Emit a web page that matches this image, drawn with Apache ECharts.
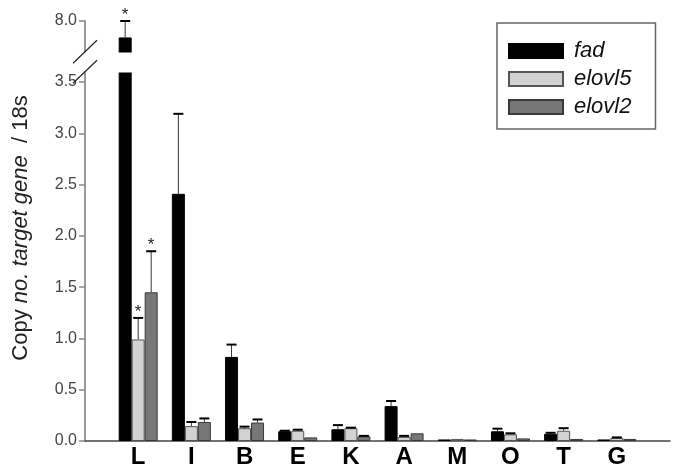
<!DOCTYPE html>
<html>
<head>
<meta charset="utf-8">
<script src="https://cdn.jsdelivr.net/npm/echarts@6/dist/echarts.min.js"></script>
<style>html,body{margin:0;padding:0;background:#fff}#c{width:673px;height:473px}</style>
</head>
<body>
<div id="c"></div>
<script>
const categories = ['L','I','B','E','K','A','M','O','T','G'];
const seriesNames = ['fad','elovl5','elovl2'];
const fad       = [7.84, 2.41, 0.82, 0.095, 0.115, 0.34, 0.015, 0.095, 0.07, 0.015];
const fadErr    = [0.16, 0.78, 0.12, 0.005, 0.04, 0.05, 0.0, 0.025, 0.01, 0.0];
const elovl5    = [0.99, 0.145, 0.125, 0.10, 0.125, 0.04, 0.02, 0.065, 0.10, 0.03];
const elovl5Err = [0.21, 0.04, 0.015, 0.01, 0.005, 0.01, 0.0, 0.01, 0.025, 0.005];
const elovl2    = [1.45, 0.185, 0.18, 0.035, 0.045, 0.075, 0.015, 0.025, 0.02, 0.02];
const elovl2Err = [0.40, 0.035, 0.03, 0.0, 0.005, 0.0, 0.0, 0.0, 0.0, 0.0];
const fadStar    = [1,0,0,0,0,0,0,0,0,0];
const elovl5Star = [1,0,0,0,0,0,0,0,0,0];
const elovl2Star = [1,0,0,0,0,0,0,0,0,0];
const yBreak = {start: 3.6, end: 7.7, gap: 0.195};
const yTicks = [0, 0.5, 1.0, 1.5, 2.0, 2.5, 3.0, 3.5, 8.0];

const axisCats = [''].concat(categories, ['']);
const values = [fad, elovl5, elovl2];
const errs = [fadErr, elovl5Err, elovl2Err];
const stars = [fadStar, elovl5Star, elovl2Star];
const styles = [
  {color:'#000000', borderColor:'#000000', borderWidth:1},
  {color:'#d2d2d2', borderColor:'#555555', borderWidth:1},
  {color:'#777777', borderColor:'#3a3a3a', borderWidth:1}
];
const BW = 13;
const offsets = [-BW, 0, BW];
const FONT = '"Liberation Sans", Arial, sans-serif';

const chart = echarts.init(document.getElementById('c'), null, {renderer:'canvas'});
const series = [];
values.forEach((vals, k) => {
  series.push({
    name: seriesNames[k], type:'bar', barWidth: BW, barGap: '0%',
    itemStyle: styles[k],
    data: categories.map((c,i) => [c, vals[i]]),
    z: 2
  });
});
values.forEach((vals, k) => {
  series.push({
    type:'custom', z: 3, silent: true,
    data: categories.map((c,i) => [c, vals[i], errs[k][i], stars[k][i]]),
    renderItem(params, api){
      const v = api.value(1), e = api.value(2), s = api.value(3);
      const idx = api.value(0);
      const base = api.coord([idx, v]);
      const top = api.coord([idx, v + e]);
      const x = base[0] + offsets[k];
      const ch = [];
      if (e > 0) {
        ch.push({type:'line', shape:{x1:x, y1:base[1], x2:x, y2:top[1]}, style:{stroke:'#333', lineWidth:1}});
        ch.push({type:'line', shape:{x1:x-5, y1:top[1], x2:x+5, y2:top[1]}, style:{stroke:'#000', lineWidth:2}});
      }
      if (s) {
        ch.push({type:'text', style:{text:'*', x:x, y:top[1]+3, align:'center', verticalAlign:'bottom', font:'17px ' + FONT, fill:'#222'}});
      }
      return {type:'group', children: ch};
    }
  });
});

chart.setOption({
  animation:false,
  backgroundColor:'#fff',
  grid:{left:85, right:-9, top:21, bottom:32, containLabel:false},
  legend:{
    show:true, z:50, zlevel:1,
    data: seriesNames,
    orient:'vertical', left:497, top:23,
    itemWidth:54, itemHeight:14, itemGap:6,
    padding:[17,24,11,11],
    borderColor:'#666', borderWidth:1.5,
    backgroundColor:'#fff',
    icon:'rect',
    textStyle:{fontSize:22, fontStyle:'italic', color:'#111', fontFamily:FONT, padding:[0,0,0,6]}
  },
  xAxis:{
    type:'category', data: axisCats, boundaryGap:false,
    axisLine:{lineStyle:{color:'#444', width:1.5}},
    axisTick:{show:false},
    axisLabel:{fontSize:24, fontWeight:'bold', color:'#000', margin:4, fontFamily:FONT},
    splitLine:{show:false}
  },
  yAxis:{
    type:'value', min:0, max:8.0, interval:0.5,
    breaks:[{start:yBreak.start, end:yBreak.end, gap:yBreak.gap}],
    breakArea:{show:true, itemStyle:{color:'#fff', borderColor:'rgba(0,0,0,0)', borderWidth:0, opacity:1}, zigzagAmplitude:0},
    breakLabelLayout:{moveOverlap:false},
    name:'{n|Copy }{i|no. target gene}{n|  / 18s}', nameLocation:'middle', nameGap:53,
    nameTextStyle:{fontSize:22, color:'#222', fontFamily:FONT, padding:[0,0,0,6],
      rich:{n:{fontSize:22, fontStyle:'normal', color:'#222', fontFamily:FONT}, i:{fontSize:22, fontStyle:'italic', color:'#222', fontFamily:FONT}}},
    axisLine:{show:true, lineStyle:{color:'#999', width:2}},
    axisTick:{show:true, length:6, lineStyle:{color:'#888', width:1.5}, customValues: yTicks},
    axisLabel:{fontSize:16, color:'#444', margin:8, fontFamily:FONT, hideOverlap:false, showMaxLabel:true, showMinLabel:true,
      customValues: yTicks,
      formatter: v => yTicks.some(t => Math.abs(t - v) < 1e-6) ? Number(v).toFixed(1) : ''},
    splitLine:{show:false}
  },
  series: series
});

const ax = 85;
const yEnd = chart.convertToPixel({yAxisIndex:0}, yBreak.end);
const yStart = chart.convertToPixel({yAxisIndex:0}, yBreak.start);
chart.setOption({
  graphic:[
    {type:'line', shape:{x1:ax-12, y1:yEnd+11.5, x2:ax+12, y2:yEnd-11.5}, style:{stroke:'#222', lineWidth:1.2}, z:100},
    {type:'line', shape:{x1:ax-12, y1:yStart+11.5, x2:ax+12, y2:yStart-11.5}, style:{stroke:'#222', lineWidth:1.2}, z:100}
  ]
});
</script>
</body>
</html>
